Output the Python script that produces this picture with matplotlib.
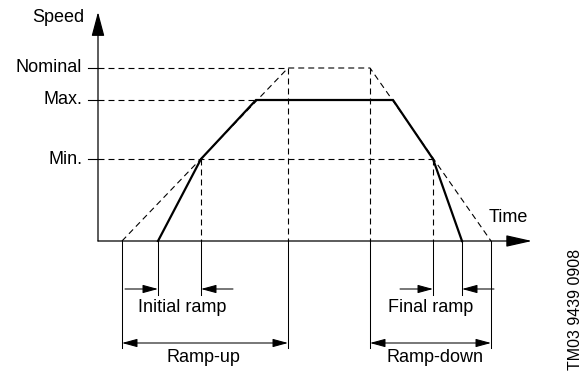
import matplotlib.pyplot as plt

plt.rcParams['font.family'] = ['Liberation Sans', 'DejaVu Sans']
plt.rcParams['lines.scale_dashes'] = False

# speed levels, origin at the axis crossing
level_names = ['Min.', 'Max.', 'Nominal']
levels = [82, 141, 173]
speed_min, speed_max, speed_nom = levels

# time marks along the x axis
t_start_nom = 24
t_start = 60
t_min_up = 103
t_max_up = 158
t_nom_up = 190
t_nom_down = 272
t_max_down = 295
t_min_down = 335
t_stop = 364
t_stop_nom = 393

# actual profile (thick) and nominal profile (dashed)
profile_t = [t_start, t_min_up, t_max_up, t_max_down, t_min_down, t_stop]
profile_v = [0, speed_min, speed_max, speed_max, speed_min, 0]
nominal_t = [t_start_nom, t_nom_up, t_nom_down, t_stop_nom]
nominal_v = [0, speed_nom, speed_nom, 0]

dims_short = [('Initial ramp', t_start, t_min_up), ('Final ramp', t_min_down, t_stop)]
dims_long = [('Ramp-up', t_start_nom, t_nom_up), ('Ramp-down', t_nom_down, t_stop_nom)]

y_top, x_end = 229, 434
y_short, y_long = -48, -102
fs = 13
dash = (0, (4.3, 2.9))

fig = plt.figure(figsize=(5.81, 3.73), dpi=100)
ax = fig.add_axes([0, 0, 1, 1])
ax.set_xlim(-98, 483)
ax.set_ylim(-132, 241)
ax.axis('off')

# axes with arrow heads
ax.annotate('', xy=(0, y_top), xytext=(0, 0),
            arrowprops=dict(arrowstyle='-|>,head_length=0.75,head_width=0.2',
                            mutation_scale=20, lw=0.9, color='black',
                            shrinkA=0, shrinkB=0))
ax.annotate('', xy=(x_end, 0), xytext=(0, 0),
            arrowprops=dict(arrowstyle='-|>,head_length=0.8,head_width=0.18',
                            mutation_scale=20, lw=0.9, color='black',
                            shrinkA=0, shrinkB=0))
ax.text(-14, 224, 'Speed', ha='right', va='center', fontsize=fs)
ax.text(391, 23, 'Time', ha='left', va='center', fontsize=fs)

# level ticks, labels and dashed guide lines
right_ends = [t_min_down, t_max_up, t_nom_up]
for name, lv, xe in zip(level_names, levels, right_ends):
    ax.plot([-10, 0], [lv, lv], color='black', lw=0.8)
    ax.plot([0, xe], [lv, lv], color='black', lw=0.8, ls=dash)
    ax.text(-16, lv, name, ha='right', va='center', fontsize=fs)

# vertical dashed guides above the time axis
for t, v in [(t_min_up, speed_min), (t_nom_up, speed_nom),
             (t_nom_down, speed_nom), (t_min_down, speed_min)]:
    ax.plot([t, t], [v, 0], color='black', lw=0.8, ls=dash)

ax.plot(nominal_t, nominal_v, color='black', lw=0.8, ls=dash)
ax.plot(profile_t, profile_v, color='black', lw=1.6, solid_joinstyle='miter')

# extension lines below the time axis
for t in [t_start, t_min_up, t_min_down, t_stop]:
    ax.plot([t, t], [0, y_short - 6], color='black', lw=0.75)
for t in [t_start_nom, t_nom_up, t_nom_down, t_stop_nom]:
    ax.plot([t, t], [0, y_long - 5], color='black', lw=0.75)

head = dict(mutation_scale=17, lw=0.75, color='black', shrinkA=0, shrinkB=0)
for label, a, b in dims_short:
    ax.annotate('', xy=(a, y_short), xytext=(a - 33, y_short),
                arrowprops=dict(arrowstyle='-|>,head_length=0.55,head_width=0.15', **head))
    ax.annotate('', xy=(b, y_short), xytext=(b + 32, y_short),
                arrowprops=dict(arrowstyle='-|>,head_length=0.55,head_width=0.15', **head))
for label, a, b in dims_long:
    ax.annotate('', xy=(a, y_long), xytext=(b, y_long),
                arrowprops=dict(arrowstyle='<|-|>,head_length=0.55,head_width=0.15', **head))

ax.text(84, -66, 'Initial ramp', ha='center', va='center', fontsize=fs)
ax.text(333, -66, 'Final ramp', ha='center', va='center', fontsize=fs)
ax.text(105, -116, 'Ramp-up', ha='center', va='center', fontsize=fs)
ax.text(337, -116, 'Ramp-down', ha='center', va='center', fontsize=fs)

ax.text(477, -68, 'TM03 9439 0908', rotation=90, ha='center', va='center', fontsize=11.5)

fig.savefig('out.png', dpi=100)
